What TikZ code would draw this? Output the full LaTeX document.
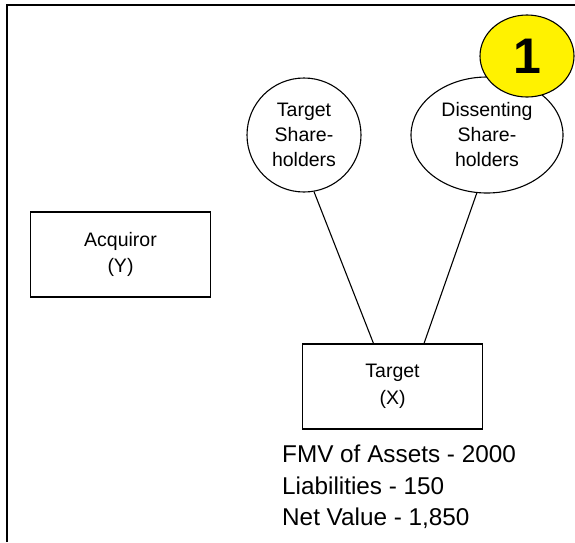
\documentclass[tikz,border=0pt]{standalone}
\usepackage{fontspec}
\setmainfont{Liberation Sans}
\usetikzlibrary{shapes.geometric}
\tikzset{entity/.style={rectangle,draw=black,line width=1.1pt,minimum width=180pt,minimum height=85pt,inner sep=0pt,align=center,font=\fontsize{19.5}{26.5}\selectfont}}
\tikzset{holder/.style={ellipse,draw=black,line width=1.1pt,inner sep=0pt,align=center,font=\fontsize{19.5}{25}\selectfont}}

\begin{document}
\begin{tikzpicture}[x=1pt,y=-1pt]
\useasboundingbox (0,0) rectangle (575,542);
% \draw[help lines] (0,0) grid (575,542);
\draw[line width=2pt] (7,542) -- (7,5) -- (575,5);
\node (acq) [entity] at (120.5,254.5) {Acquiror\\(Y)};
\node (tgt) [entity] at (392.5,386.5) {Target\\(X)};
\node (tsh) [holder,minimum width=114pt,minimum height=114pt] at (304,135) {Target\\Share-\\holders};
\node (dsh) [holder,minimum width=152pt,minimum height=116pt] at (487,135) {Dissenting\\Share-\\holders};
\node (one) [ellipse,draw=black,line width=1.1pt,fill=yellow,minimum width=94pt,minimum height=82pt,inner sep=0pt,font=\fontsize{50}{50}\selectfont\bfseries] at (527,56) {1};
%
\path[line width=1.1pt] (tsh.-80) edge ([xshift=-19pt]tgt.north);
\path[line width=1.1pt] (dsh.-100) edge ([xshift=31.5pt]tgt.north);
%
\node (fmv) [anchor=base west,inner sep=0pt,font=\fontsize{24.3}{30}\selectfont] at (282,462.7) {FMV of Assets - 2000};
\node (liab) [anchor=base west,inner sep=0pt,font=\fontsize{24.3}{30}\selectfont] at (282,494) {Liabilities - 150};
\node (net) [anchor=base west,inner sep=0pt,font=\fontsize{24.3}{30}\selectfont] at (282,525) {Net Value - 1,850};
\end{tikzpicture}
\end{document}
